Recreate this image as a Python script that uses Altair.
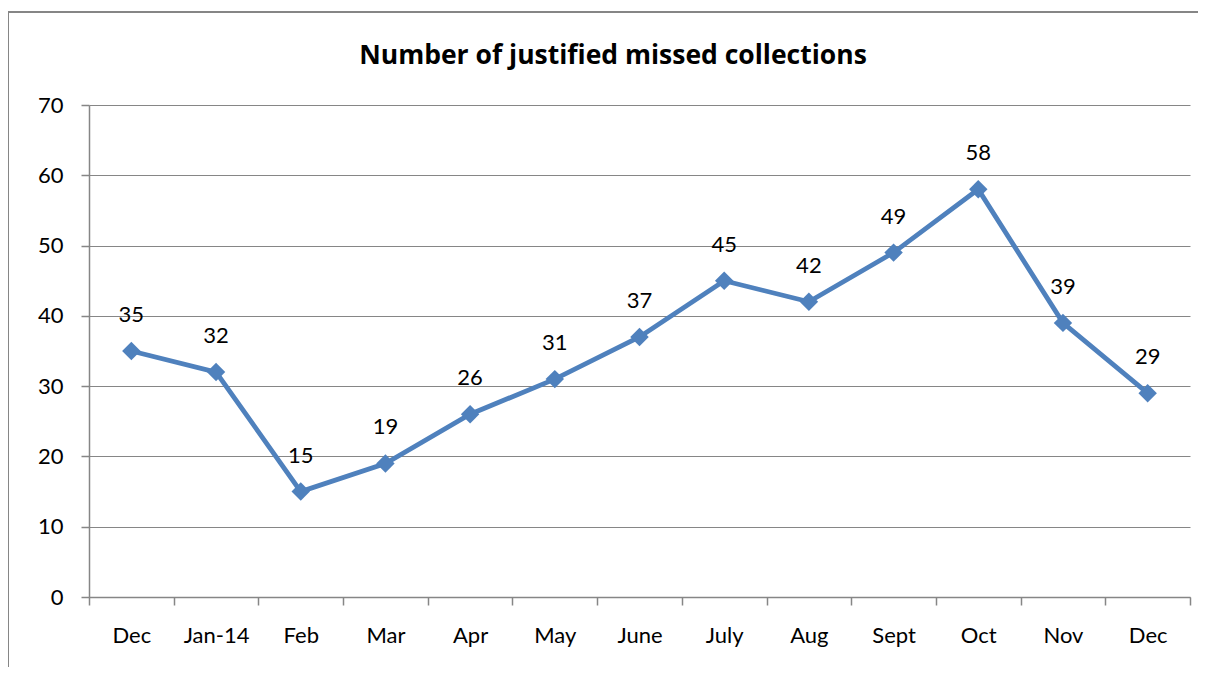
import json
import altair as alt
import pandas as pd

months = ["Dec", "Jan-14", "Feb", "Mar", "Apr", "May", "June", "July", "Aug", "Sept", "Oct", "Nov", "Dec"]
values = [35, 32, 15, 19, 26, 31, 37, 45, 42, 49, 58, 39, 29]
y_ticks = [0, 10, 20, 30, 40, 50, 60, 70]
title_text = "Number of justified missed collections"

df = pd.DataFrame({"idx": list(range(len(months))), "value": values})
title_df = pd.DataFrame({"t": [title_text]})

label_expr = json.dumps(months) + "[datum.value]"
FONT = "Lato"
GRAY = "#868686"
BLUE = "#4F81BD"

x = alt.X("idx:O", sort=list(range(len(months))), title=None,
          scale=alt.Scale(paddingInner=0, paddingOuter=0),
          axis=alt.Axis(labelExpr=label_expr, tickBand="extent", labelAngle=0,
                        labelFont=FONT, labelFontSize=22, labelColor="#000000",
                        labelPadding=20, tickSize=8, tickColor=GRAY, domainColor=GRAY,
                        domainWidth=1.5, tickWidth=1.5, grid=False))
y = alt.Y("value:Q", title=None,
          scale=alt.Scale(domain=[0, 70], nice=False),
          axis=alt.Axis(values=y_ticks, labelFont=FONT, labelFontSize=22, labelColor="#000000",
                        labelPadding=18, tickSize=8, tickColor=GRAY, domainColor=GRAY,
                        domainWidth=1.5, tickWidth=1.5, grid=True, gridColor=GRAY, gridWidth=1))

base = alt.Chart(df)

frame = base.mark_rect(fill=None, stroke=GRAY, strokeWidth=1.5).encode(
    x=alt.value(-81), x2=alt.value(1300), y=alt.value(-93), y2=alt.value(700)
)

title = alt.Chart(title_df).mark_text(font="Open Sans", fontSize=26.5, fontWeight="bold", color="#000000",
                                      baseline="middle", align="center").encode(
    x=alt.value(524), y=alt.value(-49), text="t:N"
)

line = base.mark_line(color=BLUE, strokeWidth=4.8).encode(x=x, y=y)
pts = base.mark_point(shape="diamond", filled=True, color=BLUE, size=340, opacity=1).encode(x=x, y=y)
labels = base.mark_text(font=FONT, fontSize=22, color="#000000", dy=-36, baseline="middle").encode(
    x=x, y=y, text="value:Q"
)

chart = alt.layer(frame, title, line, pts, labels).properties(
    width=1101, height=492,
    padding={"left": 81, "top": 97, "right": 8, "bottom": 70},
    autosize="none",
).configure_view(stroke=None)

chart.save("out.html", embed_options={"renderer": "svg", "actions": False})
